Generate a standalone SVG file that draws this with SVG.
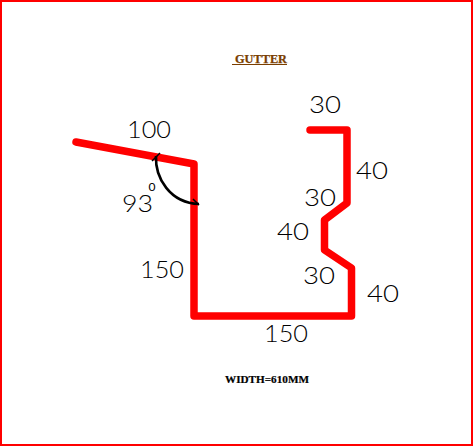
<svg xmlns="http://www.w3.org/2000/svg" width="473" height="446" viewBox="0 0 473 446">
<style>
.d{font-family:"Lato","Liberation Sans",sans-serif;font-size:24px;font-weight:300;fill:#000}
.s{font-family:"Liberation Serif",serif;font-weight:700}
</style>
<rect width="473" height="446" fill="#fff"/>
<rect x="1" y="1" width="471" height="444" fill="none" stroke="#f00" stroke-width="2"/>
<g id="connectors" fill="none">
<path id="profile" d="M76 142L194 164V316H351.500V268L324.500 250V220L347 203V130H310" stroke="#f00" stroke-width="7.500" stroke-linejoin="round" stroke-linecap="round"/>
<path id="angle-arc" d="M156 156C155 178 170 203 199 204" stroke="#000" stroke-width="2.600"/>
<path d="M152 161L160 153M193 199L199 205" stroke="#000" stroke-width="1.500"/>
</g>
<g id="title"><text class="s" x="261" y="63" font-size="12.500" fill="#7a3e00" text-anchor="middle" textLength="52" lengthAdjust="spacingAndGlyphs" stroke="#7a3e00" stroke-width=".25">GUTTER</text><rect x="232" y="64" width="55" height="1" fill="#7a3e00"/></g>
<g id="width-note"><text class="s" x="267" y="383" font-size="10" fill="#000" text-anchor="middle" textLength="84" lengthAdjust="spacingAndGlyphs" stroke="#000" stroke-width=".2">WIDTH=610MM</text></g>
<g id="labels">
<text class="d" x="127" y="138" textLength="44" lengthAdjust="spacingAndGlyphs">100</text>
<text class="d" x="309" y="113" textLength="32" lengthAdjust="spacingAndGlyphs">30</text>
<text class="d" x="356" y="179" textLength="32" lengthAdjust="spacingAndGlyphs">40</text>
<text class="d" x="304" y="206" textLength="32" lengthAdjust="spacingAndGlyphs">30</text>
<text class="d" x="277" y="240" textLength="32" lengthAdjust="spacingAndGlyphs">40</text>
<text class="d" x="303" y="284" textLength="32" lengthAdjust="spacingAndGlyphs">30</text>
<text class="d" x="367" y="302" textLength="32" lengthAdjust="spacingAndGlyphs">40</text>
<text class="d" x="140" y="278" textLength="44" lengthAdjust="spacingAndGlyphs">150</text>
<text class="d" x="264" y="342" textLength="44" lengthAdjust="spacingAndGlyphs">150</text>
<text class="d" x="122" y="212" textLength="31" lengthAdjust="spacingAndGlyphs">93</text>
<text x="148.500" y="191" font-family="Lato,sans-serif" font-size="12" font-weight="400" fill="#000" textLength="7" lengthAdjust="spacingAndGlyphs">0</text>
</g>
</svg>
